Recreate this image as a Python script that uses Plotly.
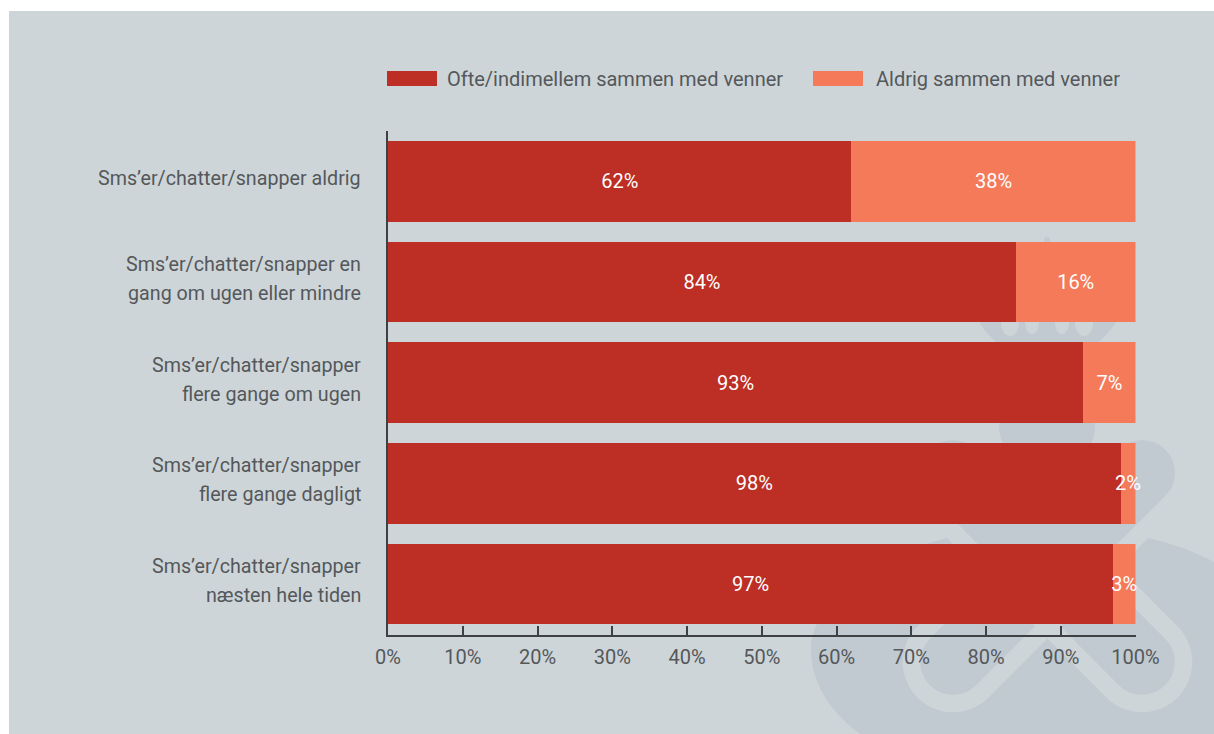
import math
import plotly.graph_objects as go

W = 1214
H = 734

categories = [
    "Sms’er/chatter/snapper aldrig",
    "Sms’er/chatter/snapper en<br>gang om ugen eller mindre",
    "Sms’er/chatter/snapper<br>flere gange om ugen",
    "Sms’er/chatter/snapper<br>flere gange dagligt",
    "Sms’er/chatter/snapper<br>næsten hele tiden",
]
often = [62, 84, 93, 98, 97]
never = [38, 16, 7, 2, 3]
series_names = ["Ofte/indimellem sammen med venner", "Aldrig sammen med venner"]
x_ticks = [0, 10, 20, 30, 40, 50, 60, 70, 80, 90, 100]

BG = "#ced5d8"
MARK = "#c2cad1"
RED = "#bd2e24"
ORANGE = "#f47a5a"
TEXT = "#54585b"
AXIS = "#3e4144"
FONT = "Roboto"
SIZE = 20


def fx(x):
    return x / W


def fy(y):
    return 1 - y / H


def p(x, y):
    return f"{fx(x):.5f},{fy(y):.5f}"


def arc(cx, cy, r, a0, a1, n=40):
    # plotly paths have no arc command, so walk round it in short lines
    pts = []
    for i in range(n + 1):
        a = math.radians(a0 + (a1 - a0) * i / n)
        pts.append("L" + p(cx + r * math.cos(a), cy + r * math.sin(a)))
    return "".join(pts)


def rect(x0, y0, x1, y1, color):
    return dict(type="rect", xref="paper", yref="paper", x0=fx(x0), x1=fx(x1),
                y0=fy(y0), y1=fy(y1), fillcolor=color, line_width=0, layer="below")


def ellipse(cx, cy, rx, ry, color):
    return dict(type="circle", xref="paper", yref="paper", x0=fx(cx - rx), x1=fx(cx + rx),
                y0=fy(cy - ry), y1=fy(cy + ry), fillcolor=color, line_width=0, layer="below")


def thick(x0, y0, x1, y1, width, color):
    return dict(type="line", xref="paper", yref="paper", x0=fx(x0), x1=fx(x1),
                y0=fy(y0), y1=fy(y1), line=dict(color=color, width=width), layer="below")


def path(d, fill=None, line=None, width=0):
    s = dict(type="path", xref="paper", yref="paper", path=d, layer="below", line_width=width)
    if fill:
        s["fillcolor"] = fill
    if line:
        s["line_color"] = line
    return s


# background panel and the faded crest behind the bars
shapes = [rect(9, 11, W, H, BG)]

body = ("M" + p(947, 538) + "L" + p(1047, 638) + "L" + p(1148, 538)
        + "C" + p(1172, 543) + " " + p(1195, 552) + " " + p(1214, 562)
        + "L" + p(1214, 734) + "L" + p(860, 734)
        + "C" + p(830, 712) + " " + p(811, 682) + " " + p(811, 650)
        + "C" + p(811, 600) + " " + p(880, 555) + " " + p(947, 538) + "Z")
shapes.append(path(body, fill=MARK))

# arms and head above the body
shapes += [
    ellipse(953, 473, 33, 33, MARK),
    ellipse(1142, 473, 33, 33, MARK),
    ellipse(1047, 425, 48, 48, MARK),
    thick(953, 473, 1047, 567, 66, MARK),
    thick(1142, 473, 1047, 567, 66, MARK),
]

# crown
crown = ("M" + p(978, 320) + "C" + p(983, 330) + " " + p(990, 336) + " " + p(997, 343)
         + "L" + p(1098, 343) + "C" + p(1105, 336) + " " + p(1112, 330) + " " + p(1117, 320) + "Z")
shapes.append(path(crown, fill=MARK))
shapes += [
    ellipse(1010, 323, 9, 13, BG),
    ellipse(1032, 322, 7, 12, BG),
    ellipse(1062, 322, 7, 12, BG),
    ellipse(1084, 323, 9, 13, BG),
    ellipse(1047, 240, 3, 3, MARK),
]

# light knot over the crest
R = 41.5
T = R / math.sqrt(2)
left_band = ("M" + p(1190, 483.6) + "L" + p(953 + T, 662 + T)
             + arc(953, 662, R, 45, 225) + "L" + p(945, 611))
right_band = ("M" + p(930, 508.6) + "L" + p(1142 - T, 662 + T)
              + arc(1142, 662, R, 135, -45) + "L" + p(1108, 569))
shapes.append(path(left_band, line=BG, width=17.5))
shapes.append(path(right_band, line=BG, width=17.5))

# legend keys
legend_keys = [(387, 437, RED), (813, 863, ORANGE)]
legend_text_x = [445, 874]
for x0, x1, c in legend_keys:
    shapes.append(dict(type="rect", xref="paper", yref="paper", x0=fx(x0), x1=fx(x1),
                       y0=fy(86), y1=fy(71), fillcolor=c, line_width=0))

annotations = []
for name, x in zip(series_names, legend_text_x):
    annotations.append(dict(text=name, xref="paper", yref="paper", x=fx(x), y=fy(79),
                            xanchor="left", yanchor="middle", showarrow=False,
                            font=dict(size=SIZE, color=TEXT, family=FONT)))

# category labels, one annotation per line for the wide line spacing
for cat in categories:
    lines = cat.split("<br>")
    for i, line in enumerate(lines):
        shift = 3 + (len(lines) - 1 - 2 * i) * 14.5
        annotations.append(dict(text=line, xref="paper", yref="y", x=fx(363), y=cat,
                                xanchor="right", yanchor="middle", showarrow=False, yshift=shift,
                                font=dict(size=19.7, color=TEXT, family=FONT)))

fig = go.Figure()
for name, vals, color in zip(series_names, [often, never], [RED, ORANGE]):
    fig.add_trace(go.Bar(
        y=categories, x=vals, name=name, orientation="h",
        marker=dict(color=color, line_width=0),
        text=[f"{v}%" for v in vals], textposition="inside", insidetextanchor="middle",
        constraintext="none", textangle=0, cliponaxis=False,
        textfont=dict(size=SIZE, color="white", family=FONT),
    ))

fig.update_layout(
    barmode="stack", bargap=0.2, showlegend=False,
    width=W, height=H, margin=dict(l=0, r=0, t=0, b=0, autoexpand=False),
    paper_bgcolor="white", plot_bgcolor="rgba(0,0,0,0)",
    shapes=shapes, annotations=annotations,
    font=dict(family=FONT, size=SIZE, color=TEXT),
)
fig.update_xaxes(
    domain=[fx(388), fx(1135.5)], range=[0, 100], tickvals=x_ticks,
    ticktext=[f"{t}%" for t in x_ticks], ticks="inside", ticklen=9, tickwidth=1.5,
    tickcolor=AXIS, showline=True, linecolor=AXIS, linewidth=1.5, showgrid=False,
    zeroline=False, tickfont=dict(size=SIZE, color=TEXT, family=FONT), ticklabelstandoff=4,
)
fig.update_yaxes(
    domain=[fy(634.5), fy(131)], range=[4.5, -0.5], showticklabels=False, ticks="",
    showline=True, linecolor=AXIS, linewidth=1.5, showgrid=False, zeroline=False,
)

# the page's default body margin would push the figure off the window
fig.write_html("out.html", config={"displayModeBar": False},
               post_script="document.body.style.margin='0';")
